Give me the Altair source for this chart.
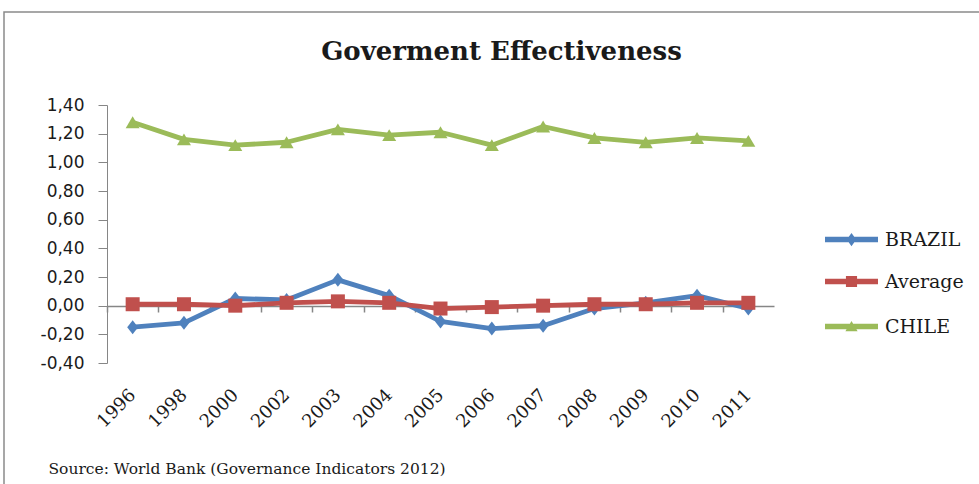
import altair as alt
import pandas as pd

# Government effectiveness estimates (World Bank governance indicators)
YEARS = ["1996", "1998", "2000", "2002", "2003", "2004", "2005",
         "2006", "2007", "2008", "2009", "2010", "2011"]
BRAZIL = [-0.15, -0.12, 0.05, 0.04, 0.18, 0.07, -0.11, -0.16, -0.14, -0.02, 0.02, 0.07, -0.02]
AVERAGE = [0.01, 0.01, 0.00, 0.02, 0.03, 0.02, -0.02, -0.01, 0.00, 0.01, 0.01, 0.02, 0.02]
CHILE = [1.28, 1.16, 1.12, 1.14, 1.23, 1.19, 1.21, 1.12, 1.25, 1.17, 1.14, 1.17, 1.15]

SERIES = ["BRAZIL", "Average", "CHILE"]
COLORS = ["#4F81BD", "#C0504D", "#9BBB59"]
Y_TICKS = [-0.4, -0.2, 0.0, 0.2, 0.4, 0.6, 0.8, 1.0, 1.2, 1.4]

TITLE = "Goverment Effectiveness"
SOURCE = "Source: World Bank (Governance Indicators 2012)"

rows = []
for name, vals in zip(SERIES, [BRAZIL, AVERAGE, CHILE]):
    for yr, v in zip(YEARS, vals):
        rows.append({"year": yr, "value": v, "series": name,
                     "order": SERIES.index(name)})
df = pd.DataFrame(rows)

W, H = 667, 258
STEP = W / len(YEARS)

# marker shapes used in the plot
MARKERS = [
    "M0,-1L0.78,0L0,1L-0.78,0Z",          # diamond
    "M-1,-1H1V1H-1Z",                      # square
    "M0,-0.85L1,0.85H-1Z",                 # triangle
]
# legend symbols: a line segment with the series marker in the middle
LEG_LINE = "M-1,-0.1H1V0.1H-1Z "
LEG_SHAPES = [
    LEG_LINE + "M0,-0.25L0.18,0L0,0.25L-0.18,0Z",
    LEG_LINE + "M-0.21,-0.21H0.21V0.21H-0.21Z",
    LEG_LINE + "M0,-0.21L0.23,0.18H-0.23Z",
]
LEG_Y = [108, 150, 195]

x_scale = alt.Scale(type="point", domain=YEARS, padding=0.5)
y_scale = alt.Scale(domain=[-0.4, 1.4], nice=False, zero=False)
color_scale = alt.Scale(domain=SERIES, range=COLORS)

label_expr = "replace(replace(format(datum.value, '.2f'), '.', ','), '\u2212', '-')"

y_axis = alt.Axis(values=Y_TICKS, labelExpr=label_expr, grid=False,
                  labelOverlap=False, tickCount=10,
                  domainColor="#868686", tickColor="#868686", tickSize=9,
                  labelPadding=14, labelFont="DejaVu Sans", labelFontSize=17,
                  labelColor="#1a1a1a", title=None)

base = alt.Chart(df)

lines = base.mark_line(strokeWidth=4.8, strokeJoin="round", strokeCap="round").encode(
    x=alt.X("year:O", scale=x_scale, sort=YEARS,
            axis=alt.Axis(orient="bottom", domain=False, ticks=False, grid=False,
                          labelAngle=-45, labelAlign="right", labelBaseline="middle",
                          labelPadding=29, labelOffset=0,
                          labelFont="DejaVu Serif", labelFontSize=18, labelColor="#1a1a1a",
                          title=SOURCE, titleFont="DejaVu Serif", titleFontSize=15.5,
                          titleFontWeight="normal", titleColor="#1a1a1a",
                          titleAnchor="start", titleAlign="left", titleBaseline="alphabetic",
                          titleX=-59, titleY=110)),
    y=alt.Y("value:Q", scale=y_scale, axis=y_axis),
    color=alt.Color("series:N", scale=color_scale, legend=None),
    detail="series:N",
    order="order:Q",
)

points = base.mark_point(filled=True, size=196, opacity=1, strokeWidth=0).encode(
    x=alt.X("year:O", scale=x_scale, sort=YEARS,
            axis=alt.Axis(orient="bottom", offset=-57, labels=False, grid=False,
                          domainColor="#868686", tickColor="#868686", tickSize=6,
                          tickOffset=-STEP / 2, domainWidth=1.5, tickWidth=1.5,
                          title=None)),
    y=alt.Y("value:Q", scale=y_scale, axis=y_axis),
    color=alt.Color("series:N", scale=color_scale, legend=None),
    shape=alt.Shape("series:N", scale=alt.Scale(domain=SERIES, range=MARKERS), legend=None),
    order="order:Q",
)

# one legend per series, each with its own line-and-marker symbol
legend_layers = []
for name, col, path, ly in zip(SERIES, COLORS, LEG_SHAPES, LEG_Y):
    legend_layers.append(
        base.transform_filter("false").mark_point(filled=True, opacity=1).encode(
            color=alt.Color("series:N",
                            scale=alt.Scale(domain=[name], range=[col]),
                            legend=alt.Legend(
                                title=None, orient="none", legendX=718, legendY=ly,
                                symbolType=path, symbolSize=2809, symbolStrokeWidth=0,
                                symbolOpacity=1, labelOffset=7,
                                labelFont="DejaVu Serif", labelFontSize=19,
                                labelColor="#1a1a1a")),
        )
    )

frame = alt.Chart(pd.DataFrame({"f": [0]})).mark_rect(
    fill=None, stroke="#8a8a8a", strokeWidth=1.5
).encode(
    x=alt.value(-103), x2=alt.value(1000),
    y=alt.value(-93), y2=alt.value(600),
)

chart = alt.layer(frame, lines, points, *legend_layers).resolve_axis(
    x="independent"
).resolve_scale(color="independent", shape="independent").properties(
    width=W, height=H,
    title=alt.TitleParams(TITLE, font="DejaVu Serif", fontSize=26, fontWeight="bold",
                          color="#1a1a1a", anchor="middle", frame="group",
                          baseline="alphabetic", offset=-75, dx=61),
    autosize=alt.AutoSizeParams(type="none"),
    padding={"left": 107, "top": 105, "right": 205, "bottom": 121},
    background="white",
).configure_view(stroke=None)

chart.save("out.html", embed_options={"renderer": "svg", "actions": False})
